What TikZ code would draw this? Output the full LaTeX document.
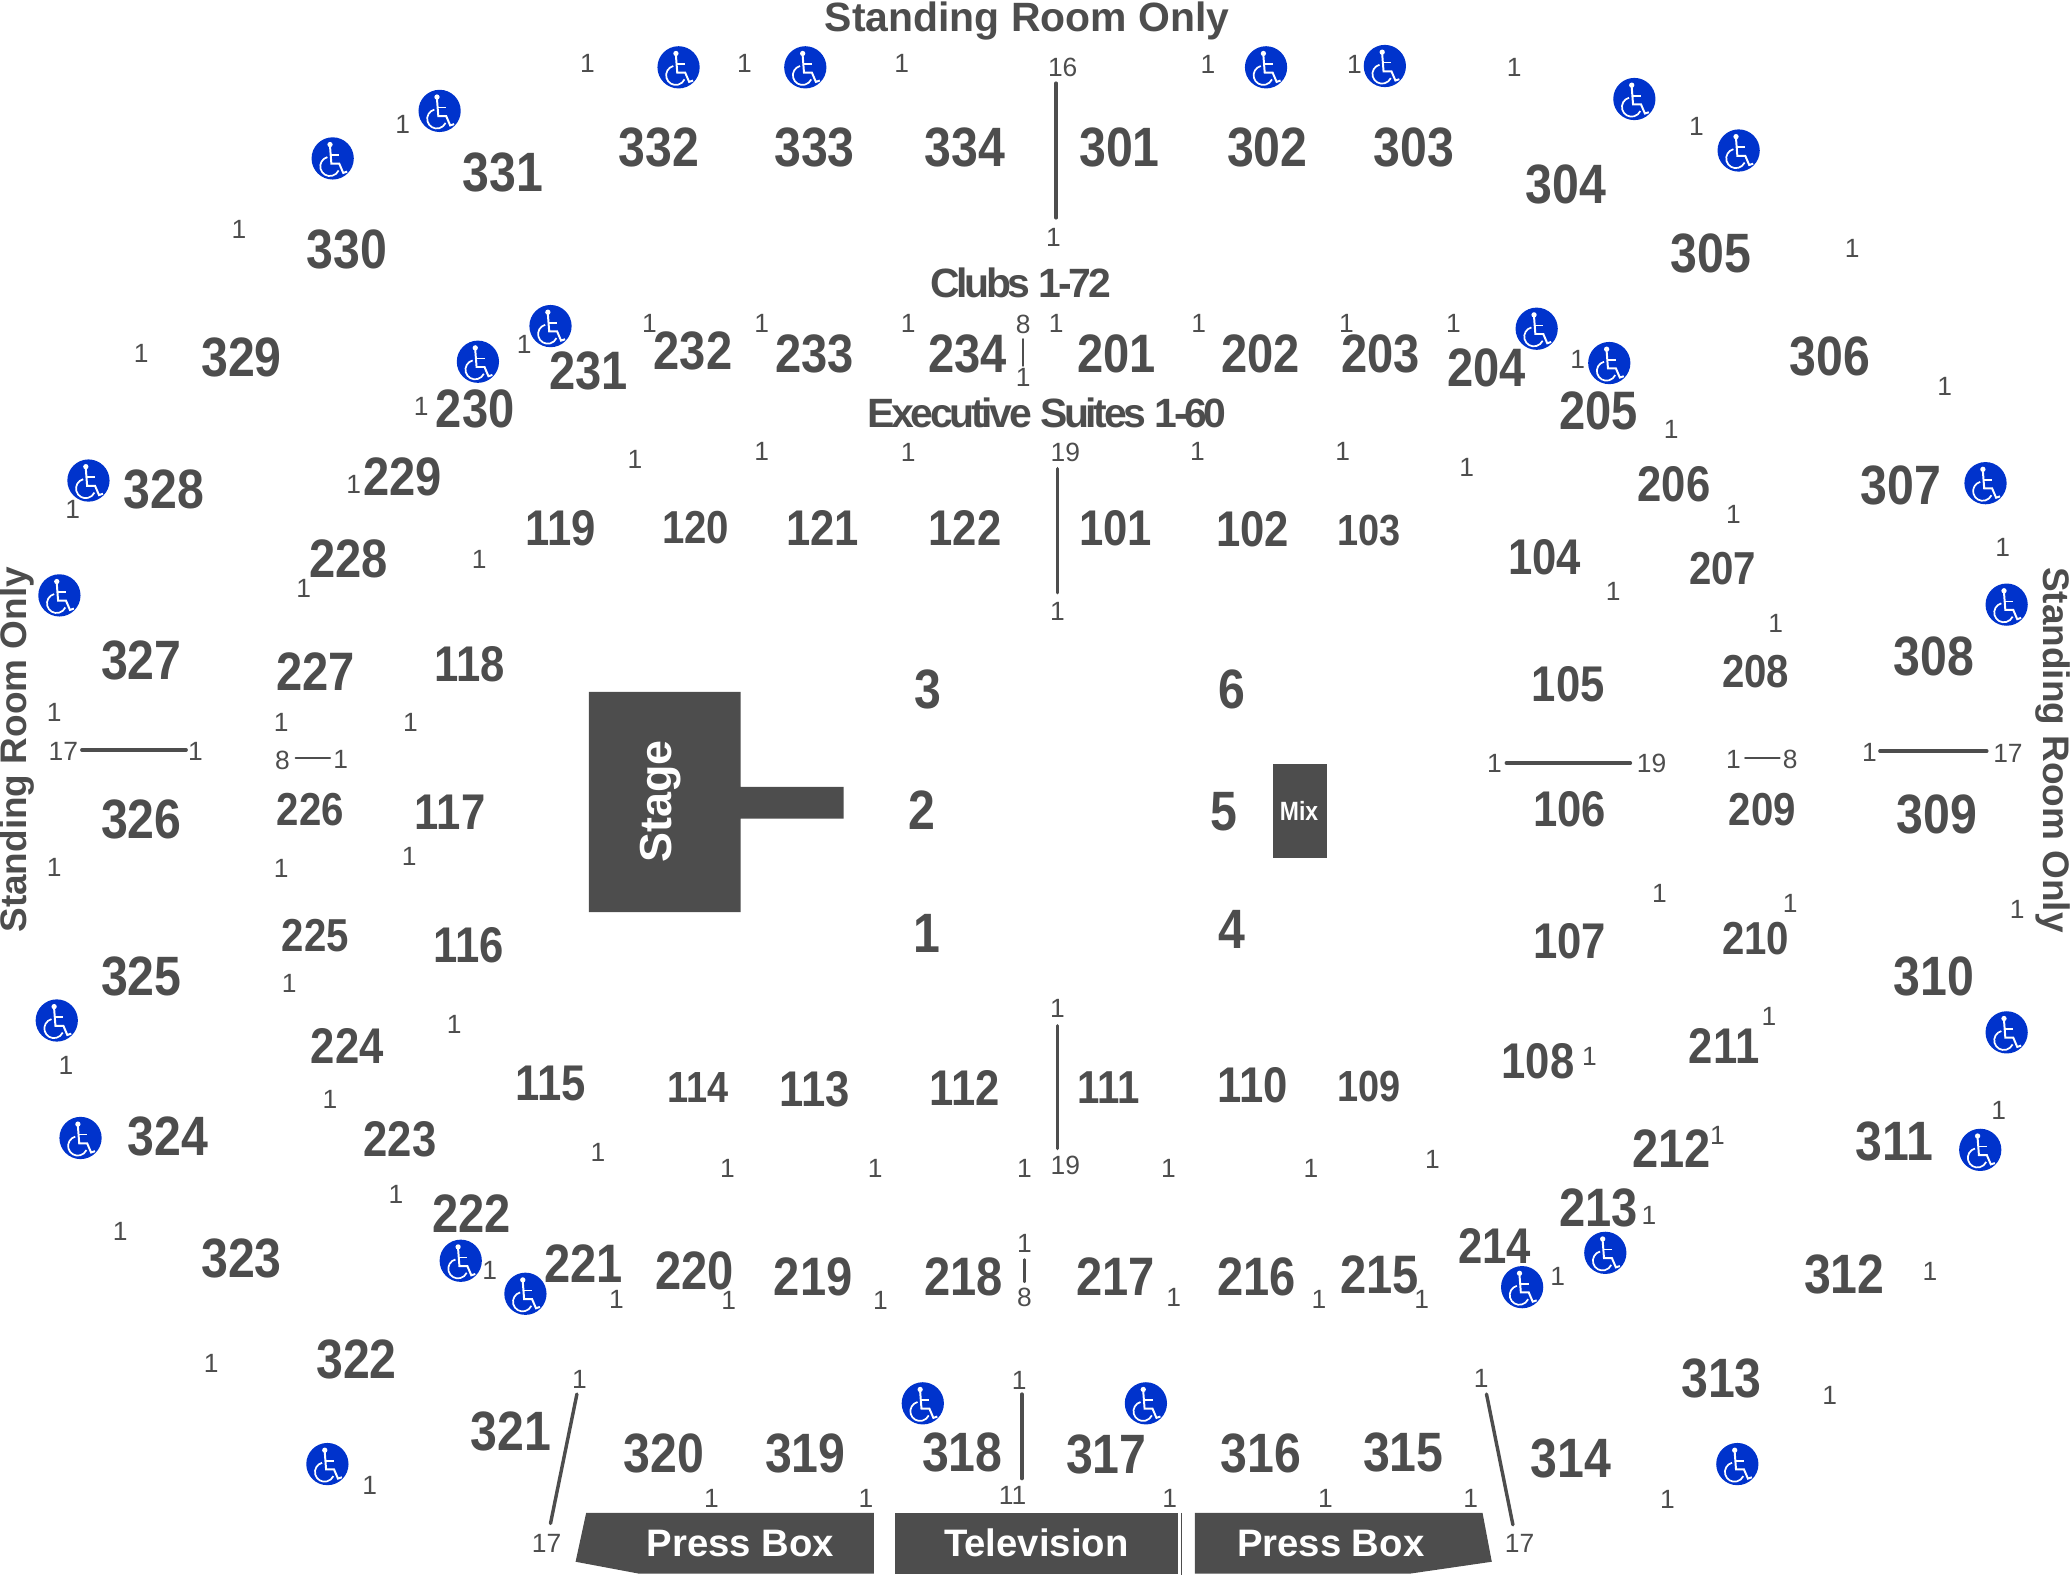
\documentclass[tikz,border=0pt]{standalone}
\usepackage{fontspec}
\setmainfont{Liberation Sans}
\newfontfamily\nf[FakeStretch=0.87]{Liberation Sans}
\newfontfamily\tf[LetterSpace=-8]{Liberation Sans}
\definecolor{ink}{HTML}{4D4D4D}
\definecolor{wcblue}{HTML}{0033CC}
\tikzset{
  lab/.style={text=ink,inner sep=0pt,anchor=center},
  sa/.style={lab,font=\nf\bfseries\fontsize{42}{42}\selectfont},
  sb/.style={lab,font=\nf\bfseries\fontsize{41}{41}\selectfont},
  sc/.style={lab,font=\nf\bfseries\fontsize{38}{38}\selectfont},
  sd/.style={lab,font=\nf\bfseries\fontsize{35}{35}\selectfont},
  se/.style={lab,font=\nf\bfseries\fontsize{33}{33}\selectfont},
  rowno/.style={lab,font=\fontsize{20}{20}\selectfont},
  title/.style={lab,font=\bfseries\fontsize{31}{31}\selectfont},
  titles/.style={lab,font=\bfseries\fontsize{28}{28}\selectfont},
  titlet/.style={lab,font=\tf\bfseries\fontsize{31}{31}\selectfont},
  boxtext/.style={text=white,inner sep=0pt,font=\bfseries\fontsize{29}{29}\selectfont},
  block/.style={fill=ink,draw=none},
  aisle/.style={draw=ink,line width=2.6pt,line cap=round},
  wheel/.pic={
    \fill[wcblue] (0,0) circle[radius=16];
    \fill[white] (-2,-10.5) circle[radius=2];
    \draw[white,line width=1.5pt] (-2,-9) -- (-1,4) -- (5,4) -- (8,11) -- (11,10);
    \draw[white,line width=1.2pt] (-1.5,-2.5) -- (5,-2.5);
    \draw[white,line width=1.3pt] (-4,-1) arc[start angle=-105,end angle=-335,radius=7.3];
  }
}
\begin{document}
\begin{tikzpicture}[x=1pt,y=-1pt]
\useasboundingbox (0,0) rectangle (1568,1206.7);
% stage and fixed blocks
\fill[block] (446,524) -- (561,524) -- (561,596) -- (639,596) -- (639,620) -- (561,620) -- (561,691) -- (446,691) -- cycle;
\node[boxtext,rotate=90,font=\bfseries\fontsize{34}{34}\selectfont] (stage) at (500,607) {Stage};
\fill[block] (964,579) rectangle (1005,650);
\node[boxtext,font=\nf\bfseries\fontsize{20}{20}\selectfont] (mix) at (984,614) {Mix};
\fill[block] (444,1146) -- (662,1146) -- (662,1192) -- (484,1192) -- (436,1183) -- cycle;
\fill[block] (678,1146) rectangle (892,1192);
\fill[block] (905,1146) -- (1123,1146) -- (1130,1183) -- (1068,1192) -- (905,1192) -- cycle;
\draw[ink,line width=0.5pt] (894.6,1146) -- (894.6,1193);
\node[boxtext] (press1) at (561,1169) {Press Box};
\node[boxtext] (tv) at (785,1169) {Television};
\node[boxtext] (press2) at (1008,1169) {Press Box};
% titles
\node[title] (srotop) at (778,16) {Standing Room Only};
\node[titles,rotate=90] (sroleft) at (13,568) {Standing Room Only};
\node[titles,rotate=-90] (sroright) at (1555,568) {Standing Room Only};
\node[titlet] (clubs) at (773,214) {Clubs 1-72};
\node[titlet] (suites) at (793,313) {Executive Suites 1-60};
% sections
\foreach \x/\y/\t in {381/131/331,263/189/330,183/271/329,124/371/328,107/500/327,107/621/326,107/740/325,127/861/324,183/953/323,270/1030/322,387/1084/321,503/1101/320,610/1101/319,729/1100/318,838/1102/317,955/1101/316,1063/1100/315,1190/1105/314,1304/1044/313,1397/965/312,1435/865/311,1465/740/310,1467/617/309,1465/497/308,1440/368/307,1386/270/306,1296/192/305,1186/140/304,1071/112/303,960/112/302,848/112/301,731/112/334,617/112/333,499/112/332}
  \node[sa] (s\t) at (\x,\y) {\t};
\foreach \x/\y/\t in {525/266/232,617/268/233,733/268/234,846/268/201,955/268/202,1046/268/203,1126/279/204,1211/311/205,1266/870/212,1211/915/213,1045/966/215,952/967/216,845/967/217,730/967/218,616/967/219,526/963/220,442/957/221,357/919/222,239/509/227,264/423/228,305/361/229,360/310/230,446/281/231}
  \node[sb] (s\t) at (\x,\y) {\t};
\foreach \x/\y/\t in {1268/367/206,1306/792/211,1132/944/214,303/863/223,263/792/224,425/400/119,623/400/121,731/400/122,845/400/101,949/401/102,1170/422/104,1188/518/105,1189/613/106,1189/713/107,1165/804/108,949/822/110,731/824/112,617/825/113,417/821/115,355/716/116,341/615/117,356/503/118}
  \node[sc] (s\t) at (\x,\y) {\t};
\foreach \x/\y/\t in {1305/431/207,1330/509/208,1335/613/209,1330/711/210,239/709/225,235/613/226,527/400/120,840/824/111}
  \node[sd] (s\t) at (\x,\y) {\t};
\foreach \x/\y/\t in {1037/402/103,1037/823/109,529/824/114}
  \node[se] (s\t) at (\x,\y) {\t};
\foreach \x/\y/\t in {703/522/3,933/522/6,698/614/2,927/615/5,702/707/1,933/704/4}
  \node[sa] (f\t) at (\x,\y) {\t};
% row numbers
\foreach \x/\y/\t [count=\i] in {445/48/1,564/48/1,683/48/1,805/51/16,915/49/1,1026/49/1,1147/51/1,1285/96/1,1403/188/1,1473/293/1,1517/415/1,1345/472/1,1313/390/1,1266/325/1,1195/272/1,1101/245/1,1020/245/1,908/245/1,800/245/1,775/246/8,775/286/1,688/245/1,577/245/1,492/245/1,397/261/1,319/308/1,268/367/1,230/446/1,363/424/1,481/348/1,577/342/1,688/343/1,807/343/19,907/342/1,1017/342/1,1111/354/1,1222/448/1,801/463/1,798/180/1,181/174/1,107/268/1,55/386/1,305/94/1,41/540/1,48/569/17,148/569/1,41/657/1,213/547/1,214/576/8,258/575/1,311/547/1,213/658/1,310/649/1,219/745/1,344/776/1,50/807/1,250/833/1,453/873/1,551/885/1,663/885/1,776/885/1,807/883/19,885/885/1,993/885/1,1085/878/1,1204/800/1,1340/770/1,1301/860/1,1514/841/1,1249/921/1,1180/967/1,1077/984/1,999/984/1,889/983/1,776/942/1,776/983/8,667/985/1,552/985/1,467/984/1,371/962/1,300/905/1,91/933/1,160/1033/1,280/1125/1,801/764/1,439/1045/1,414/1169/17,539/1135/1,656/1135/1,772/1046/1,767/1133/11,886/1135/1,1004/1135/1,1114/1135/1,1122/1044/1,1151/1169/17,1263/1136/1,1386/1057/1,1462/963/1,1132/578/1,1251/578/19,1313/575/1,1356/575/8,1416/570/1,1521/571/17,1257/677/1,1356/684/1,1528/689/1}
  \node[rowno] (r\i) at (\x,\y) {\t};
% aisle lines
\foreach \a/\b/\c/\d in {800/63/800/165,801/355/801/449,801/777/801/870,774/1056/774/1120,62/568/141/568,1141/578/1235/578,1424/569/1505/569,437/1056/417/1154,1126/1056/1146/1155}
  \draw[aisle] (\a,\b) -- (\c,\d);
\foreach \a/\b/\c/\d in {775/257/775/277,224/574/250/574,1322/574/1348/574,776/954/776/971}
  \draw[aisle,line width=1.8pt] (\a,\b) -- (\c,\d);
% accessible seating
\foreach \x/\y in {252/120,333/84,514/51,610/51,959/51,1049/50,1238/75,1317/114,417/247,362/274,1164/249,1219/275,1504/366,1520/458,67/364,45/451,43/773,61/862,1520/782,1500/871,349/955,398/980,1216/949,1153/975,699/1063,868/1063,248/1109,1316/1109}
  \pic at (\x,\y) {wheel};
\end{tikzpicture}
\end{document}
